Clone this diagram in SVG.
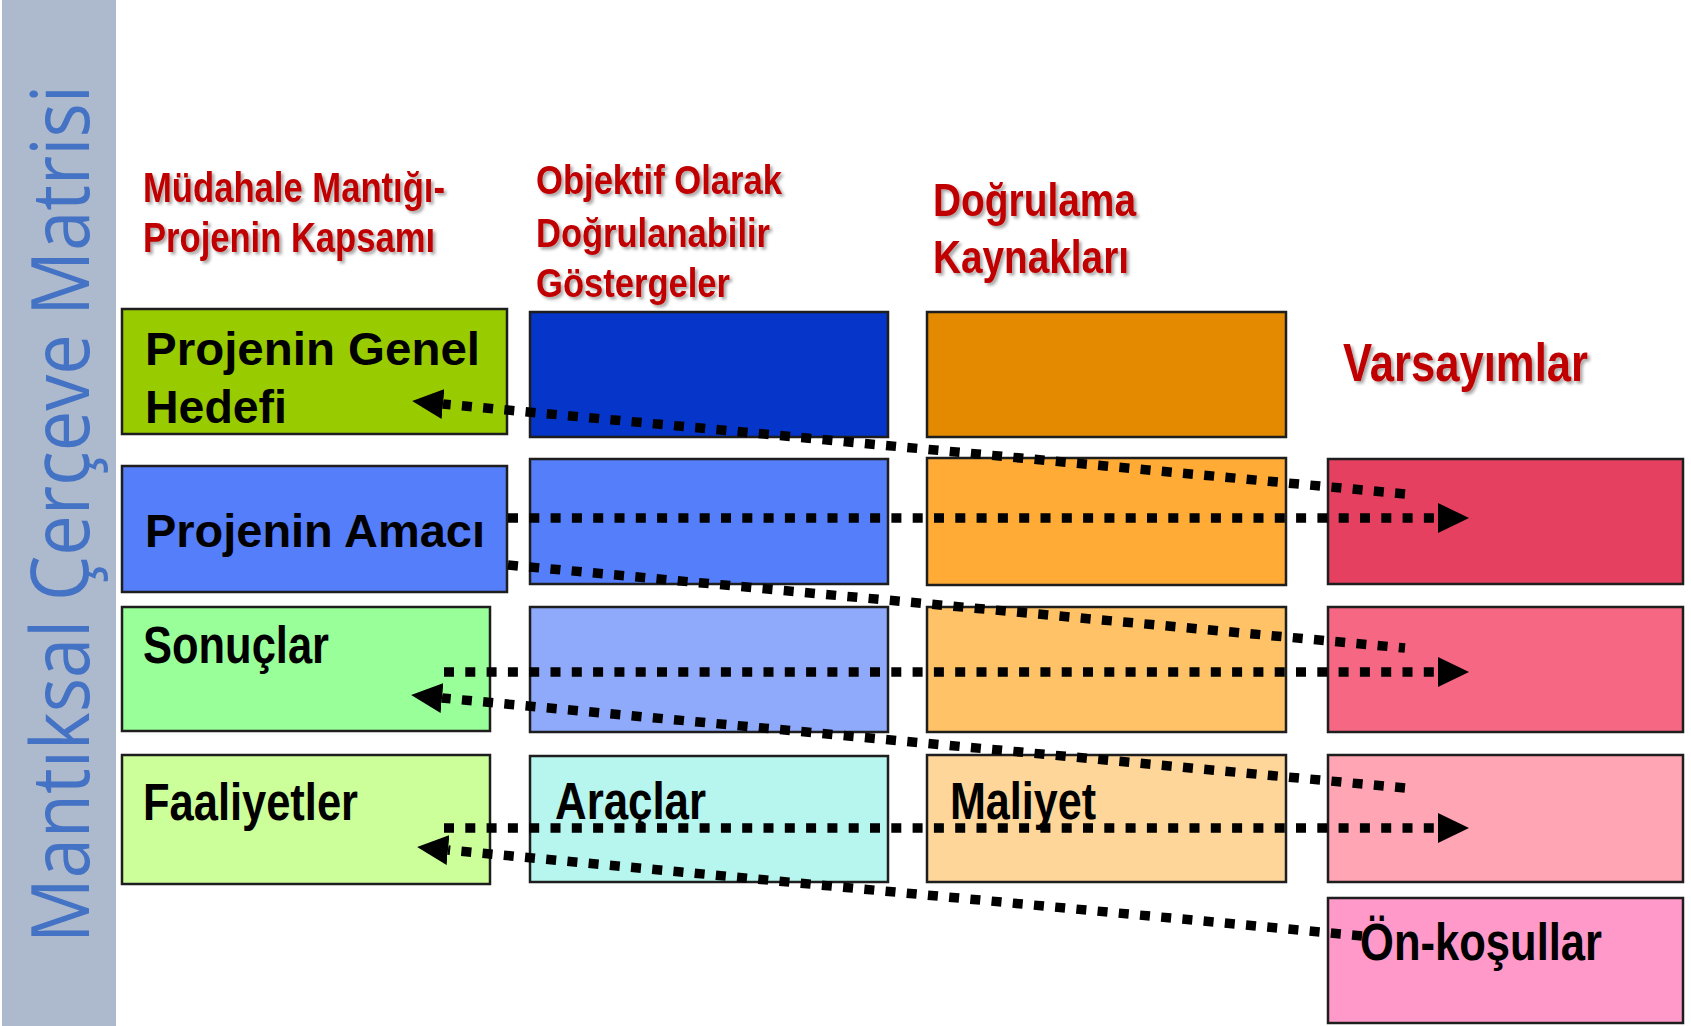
<svg xmlns="http://www.w3.org/2000/svg" width="1691" height="1026" viewBox="0 0 1691 1026">
<style>
.box{stroke:#1e1e1e;stroke-width:2.5}
.hdr{font-family:"Liberation Sans Narrow","Liberation Sans",Arial,sans-serif;font-weight:bold;fill:#C00000;filter:url(#sh)}
.lbl{font-family:"Liberation Sans",Arial,sans-serif;font-weight:bold;fill:#000;font-size:47px}
.nar{font-family:"Liberation Sans Narrow","Liberation Sans",Arial,sans-serif;font-weight:bold;fill:#000;font-size:51px}
.dot{fill:none;stroke:#000;stroke-width:9.5;stroke-dasharray:10 11.3}
.side{font-family:"Open Sans","Noto Sans",sans-serif;fill:#4472C4;font-size:80px}
</style>
<defs>
<filter id="sh" x="-5%" y="-25%" width="115%" height="160%">
<feDropShadow dx="2.5" dy="2.5" stdDeviation="1.5" flood-color="#000" flood-opacity="0.35"/>
</filter>
<marker id="ah" markerUnits="userSpaceOnUse" viewBox="0 0 31 30" markerWidth="31" markerHeight="30" refX="0" refY="15" orient="auto">
<path d="M0,0 L31,15 L0,30 z" fill="#000"/>
</marker>
</defs>
<rect width="1691" height="1026" fill="#fff"/>

<g id="sidebar">
<rect x="2" y="0" width="114" height="1026" fill="#ADB9CC"/>
<text class="side" transform="translate(89,943) rotate(-90)" textLength="858" lengthAdjust="spacingAndGlyphs">Mantıksal Çerçeve Matrisi</text>
</g>

<g id="header-mudahale">
<text class="hdr" font-size="42" x="143" y="202" textLength="302" lengthAdjust="spacingAndGlyphs">Müdahale Mantığı-</text>
<text class="hdr" font-size="42" x="143" y="252" textLength="292" lengthAdjust="spacingAndGlyphs">Projenin Kapsamı</text>
</g>
<g id="header-objektif">
<text class="hdr" font-size="41" x="536" y="194" textLength="246" lengthAdjust="spacingAndGlyphs">Objektif Olarak</text>
<text class="hdr" font-size="41" x="536" y="247" textLength="234" lengthAdjust="spacingAndGlyphs">Doğrulanabilir</text>
<text class="hdr" font-size="41" x="536" y="297" textLength="194" lengthAdjust="spacingAndGlyphs">Göstergeler</text>
</g>
<g id="header-dogrulama">
<text class="hdr" font-size="47" x="933" y="216" textLength="203" lengthAdjust="spacingAndGlyphs">Doğrulama</text>
<text class="hdr" font-size="47" x="933" y="273" textLength="196" lengthAdjust="spacingAndGlyphs">Kaynakları</text>
</g>
<g id="header-varsayimlar">
<text class="hdr" font-size="53" x="1343" y="381" textLength="245" lengthAdjust="spacingAndGlyphs">Varsayımlar</text>
</g>

<g id="genel-hedef">
<rect class="box" x="122" y="309" width="385" height="125" fill="#99CC00"/>
<text class="lbl" x="145" y="365" textLength="335" lengthAdjust="spacingAndGlyphs">Projenin Genel</text>
<text class="lbl" x="145" y="423" textLength="142" lengthAdjust="spacingAndGlyphs">Hedefi</text>
</g>
<g id="amac">
<rect class="box" x="122" y="466" width="385" height="126" fill="#557EFB"/>
<text class="lbl" x="145" y="547" textLength="340" lengthAdjust="spacingAndGlyphs">Projenin Amacı</text>
</g>
<g id="sonuclar">
<rect class="box" x="122" y="607" width="368" height="124" fill="#99FF99"/>
<text class="nar" x="143" y="663" textLength="186" lengthAdjust="spacingAndGlyphs">Sonuçlar</text>
</g>
<g id="faaliyetler">
<rect class="box" x="122" y="755" width="368" height="129" fill="#CCFF99"/>
<text class="nar" x="143" y="820" textLength="215" lengthAdjust="spacingAndGlyphs">Faaliyetler</text>
</g>

<g id="gosterge-1"><rect class="box" x="530" y="312" width="358" height="125" fill="#0535C9"/></g>
<g id="gosterge-2"><rect class="box" x="530" y="459" width="358" height="125" fill="#557EFB"/></g>
<g id="gosterge-3"><rect class="box" x="530" y="607" width="358" height="125" fill="#8FA9FB"/></g>
<g id="araclar">
<rect class="box" x="530" y="756" width="358" height="126" fill="#B6F6EE"/>
<text class="nar" x="555" y="819" textLength="151" lengthAdjust="spacingAndGlyphs">Araçlar</text>
</g>

<g id="kaynak-1"><rect class="box" x="927" y="312" width="359" height="125" fill="#E38A00"/></g>
<g id="kaynak-2"><rect class="box" x="927" y="458" width="359" height="127" fill="#FFAB36"/></g>
<g id="kaynak-3"><rect class="box" x="927" y="607" width="359" height="125" fill="#FFC266"/></g>
<g id="maliyet">
<rect class="box" x="927" y="755" width="359" height="127" fill="#FFD699"/>
<text class="nar" x="950" y="819" textLength="146" lengthAdjust="spacingAndGlyphs">Maliyet</text>
</g>

<g id="varsayim-1"><rect class="box" x="1328" y="459" width="355" height="125" fill="#E5405F"/></g>
<g id="varsayim-2"><rect class="box" x="1328" y="607" width="355" height="125" fill="#F66783"/></g>
<g id="varsayim-3"><rect class="box" x="1328" y="755" width="355" height="127" fill="#FFA5B3"/></g>
<g id="on-kosullar">
<rect class="box" x="1328" y="898" width="355" height="125" fill="#FF99C9"/>
<text class="nar" x="1360" y="960" textLength="242" lengthAdjust="spacingAndGlyphs">Ön-koşullar</text>
</g>

<g id="connectors">
<path class="dot" d="M1405,494 L443,404" marker-end="url(#ah)"/>
<path class="dot" d="M508,518 L1438,518" marker-end="url(#ah)"/>
<path class="dot" d="M508,565 L1405,648"/>
<path class="dot" d="M444,672 L1438,672" marker-end="url(#ah)"/>
<path class="dot" d="M1405,788 L442,698" marker-end="url(#ah)"/>
<path class="dot" d="M444,828 L1438,828" marker-end="url(#ah)"/>
<path class="dot" d="M1362,936 L448,850" marker-end="url(#ah)"/>
</g>
</svg>
